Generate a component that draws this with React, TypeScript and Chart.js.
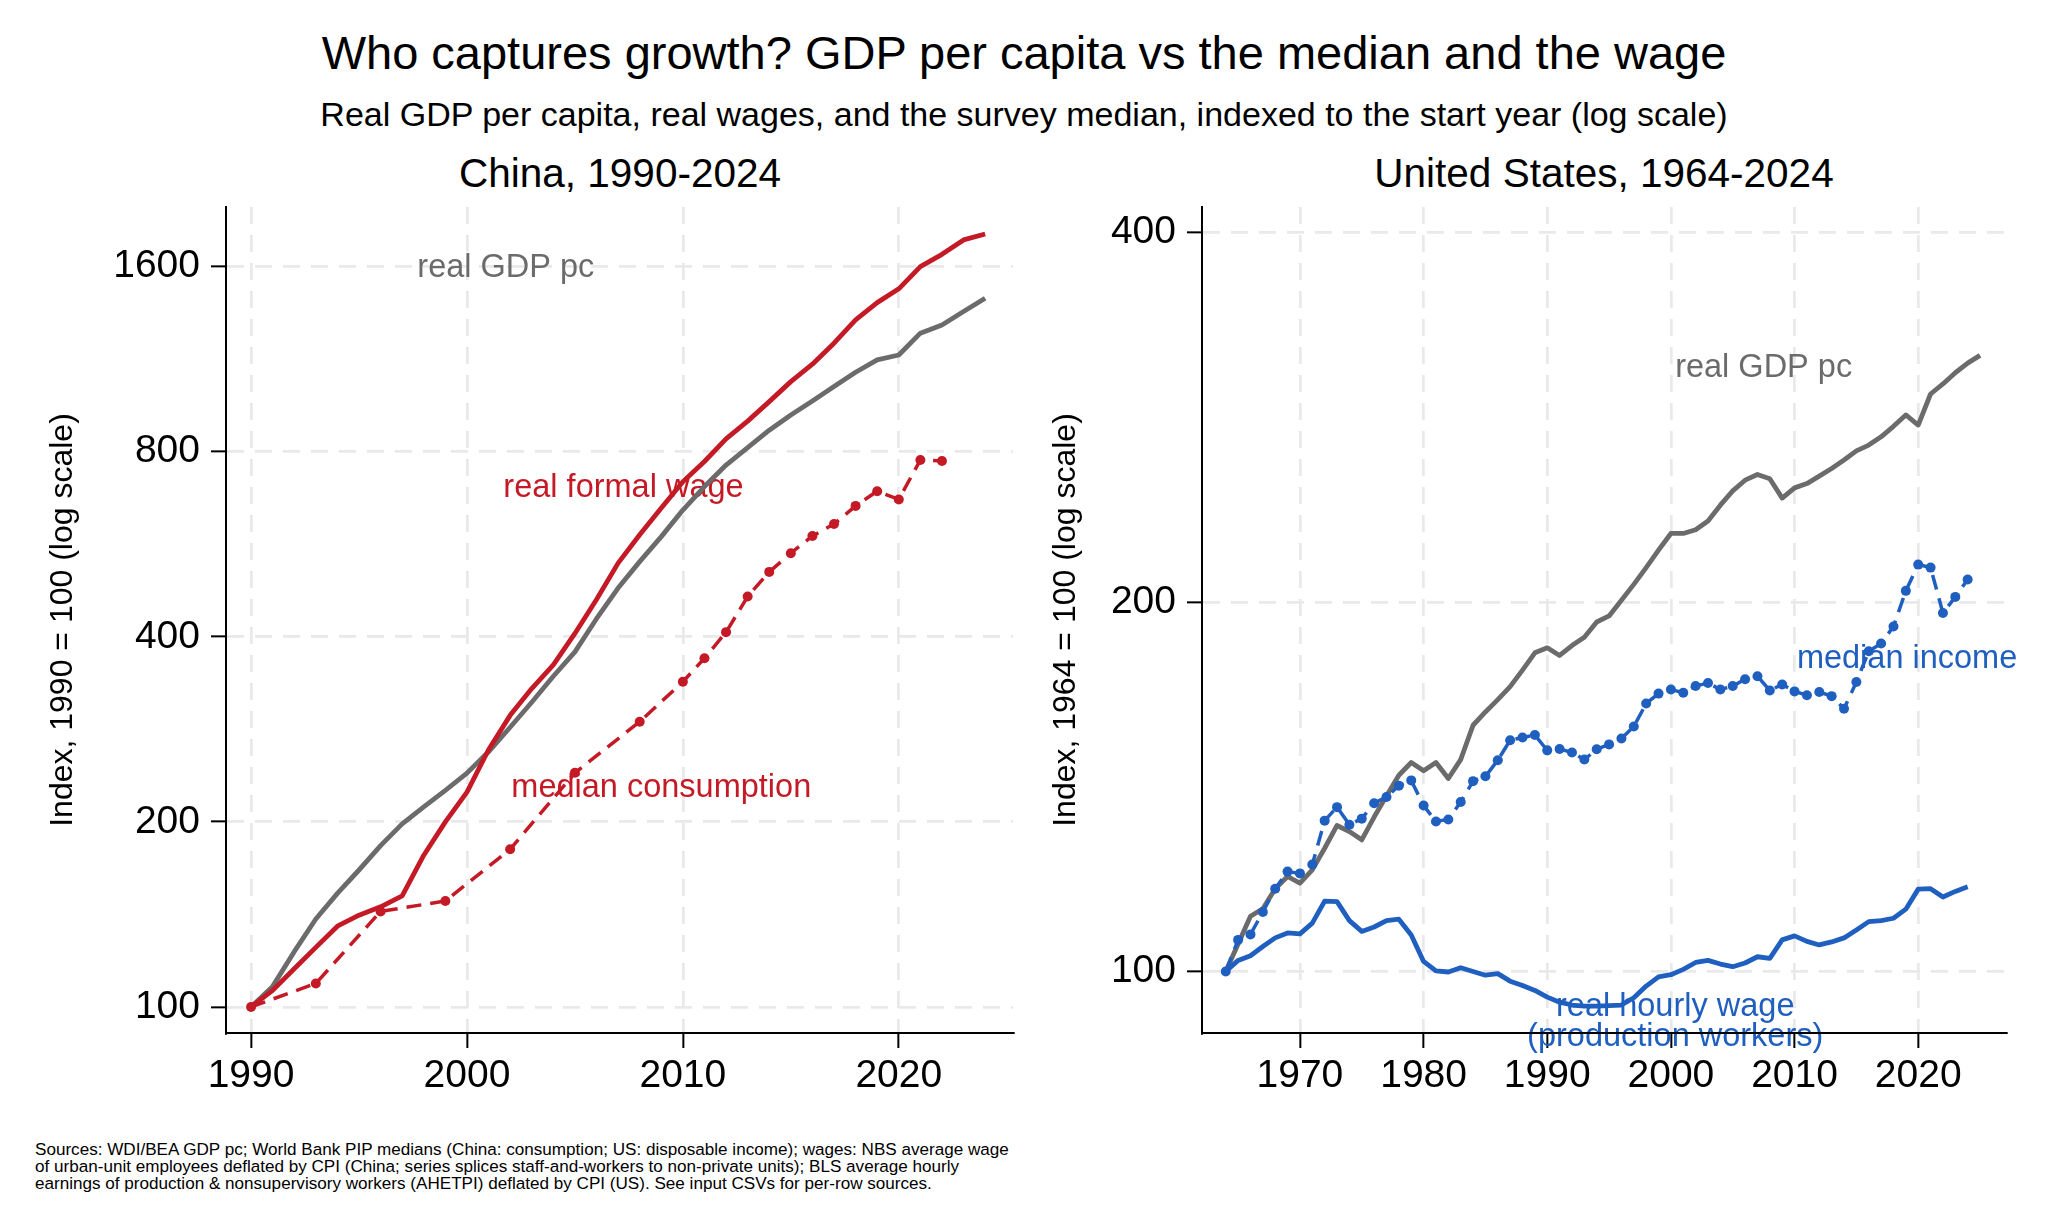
import React, { useEffect, useRef } from "react";
import { Chart, registerables } from "chart.js";

Chart.register(...registerables);

const FONT = "'Liberation Sans', Arial, Helvetica, sans-serif";
const GRAY = "#6b6b6b";
const RED = "#c41a26";
const BLUE = "#1f5fbf";
const GRID = "#e9e9e9";

// ---------------- China, 1990-2024 ----------------
const cnYears = [
  1990, 1991, 1992, 1993, 1994, 1995, 1996, 1997, 1998, 1999,
  2000, 2001, 2002, 2003, 2004, 2005, 2006, 2007, 2008, 2009,
  2010, 2011, 2012, 2013, 2014, 2015, 2016, 2017, 2018, 2019,
  2020, 2021, 2022, 2023, 2024,
];
const cnGdp = [
  100, 108, 123, 139, 153, 167, 183, 198.5, 211.5, 225,
  240, 260, 285, 313, 345, 378, 428, 480, 530, 582,
  643, 702, 761, 812, 867, 918, 967, 1021, 1077, 1128,
  1149, 1247, 1286, 1352, 1421,
];
const cnWage = [
  100, 106.4, 115.4, 125, 135.3, 141, 145.5, 151.6, 176.5, 200,
  223.6, 262, 298, 329.5, 360, 405, 460, 527, 586, 648,
  715, 771, 839, 897, 965, 1040, 1110, 1201, 1310, 1398,
  1472, 1600, 1675, 1768, 1808,
];
const cnMedianYears = [
  1990, 1993, 1996, 1999, 2002, 2005, 2008, 2010, 2011, 2012,
  2013, 2014, 2015, 2016, 2017, 2018, 2019, 2020, 2021, 2022,
];
const cnMedian = [
  100, 109.2, 143, 148.7, 180.5, 240.3, 291, 338, 369, 407,
  465, 510, 547, 583.5, 610, 653, 690, 669, 775.6, 772.6,
];
const cnYTicks = [100, 200, 400, 800, 1600];
const cnXTicks = [1990, 2000, 2010, 2020];

// ---------------- United States, 1964-2024 ----------------
const usGdpYears = [
  1964, 1965, 1966, 1967, 1968, 1969, 1970, 1971, 1972, 1973,
  1974, 1975, 1976, 1977, 1978, 1979, 1980, 1981, 1982, 1983,
  1984, 1985, 1986, 1987, 1988, 1989, 1990, 1991, 1992, 1993,
  1994, 1995, 1996, 1997, 1998, 1999, 2000, 2001, 2002, 2003,
  2004, 2005, 2006, 2007, 2008, 2009, 2010, 2011, 2012, 2013,
  2014, 2015, 2016, 2017, 2018, 2019, 2020, 2021, 2022, 2023,
  2024, 2025,
];
const usGdp = [
  100, 105.3, 110.9, 112.5, 116.8, 119.5, 118, 121, 126, 131.5,
  130, 128, 133.6, 139, 144.5, 148, 145.7, 148, 143.6, 148.8,
  158.7, 162.7, 166.5, 170.6, 176, 181.8, 183.5, 180.9, 184.3, 187.2,
  192.6, 194.8, 200.6, 206.7, 213.3, 220.4, 227.4, 227.4, 229, 232.8,
  239.8, 246.3, 251.3, 254, 252, 243, 247.7, 249.7, 253.2, 256.9,
  261, 265.5, 268.4, 272.6, 278, 284, 278.7, 295.4, 301, 307.4,
  313, 317.6,
];
const usYears = [
  1964, 1965, 1966, 1967, 1968, 1969, 1970, 1971, 1972, 1973,
  1974, 1975, 1976, 1977, 1978, 1979, 1980, 1981, 1982, 1983,
  1984, 1985, 1986, 1987, 1988, 1989, 1990, 1991, 1992, 1993,
  1994, 1995, 1996, 1997, 1998, 1999, 2000, 2001, 2002, 2003,
  2004, 2005, 2006, 2007, 2008, 2009, 2010, 2011, 2012, 2013,
  2014, 2015, 2016, 2017, 2018, 2019, 2020, 2021, 2022, 2023,
  2024,
];
const usMedian = [
  100, 106.1, 107.2, 111.8, 116.8, 120.6, 120.2, 122.2, 132.7, 136.1,
  131.7, 133.2, 137.1, 138.7, 141.7, 143.1, 136.5, 132.5, 133, 137.4,
  142.9, 144.2, 148.6, 154.3, 155.1, 155.8, 151.4, 151.8, 150.8, 148.8,
  151.7, 153.1, 154.8, 158.3, 165.3, 168.4, 169.7, 168.7, 170.8, 171.8,
  169.7, 170.8, 173, 174, 169.4, 171.3, 169.1, 167.9, 168.9, 167.6,
  163.7, 172.1, 182.3, 185, 191, 204.2, 214.5, 213.3, 195.9, 201.9,
  208.6,
];
const usWage = [
  100, 102.1, 103, 104.8, 106.5, 107.5, 107.3, 109.5, 114.1, 114,
  110, 107.8, 108.7, 110, 110.3, 107.1, 101.9, 100.1, 99.9, 100.7,
  100, 99.3, 99.6, 98.2, 97.4, 96.5, 95.3, 94.4, 93.9, 93.7,
  93.7, 93.8, 93.9, 95.2, 97.3, 99, 99.4, 100.4, 101.7, 102.1,
  101.4, 100.9, 101.6, 102.8, 102.5, 106.1, 106.9, 105.8, 105.1, 105.7,
  106.5, 108.1, 109.8, 110, 110.5, 112.4, 116.7, 116.8, 115, 116.2,
  117.2,
];
const usYTicks = [100, 200, 400];
const usXTicks = [1970, 1980, 1990, 2000, 2010, 2020];

// annotation labels (placed in data coordinates)
const cnNotes = [
  { text: "real GDP pc", x: 2001.8, y: 1594, color: GRAY },
  { text: "real formal wage", x: 2007.25, y: 698, color: RED },
  { text: "median consumption", x: 2009, y: 227, color: RED },
];
const usNotes = [
  { text: "real GDP pc", x: 2007.5, y: 310, color: GRAY },
  { text: "median income", x: 2019.1, y: 179.8, color: BLUE },
  { text: "real hourly wage", x: 2000.35, y: 93.6, color: BLUE },
  { text: "(production workers)", x: 2000.35, y: 88.4, color: BLUE },
];

const notesPlugin = {
  id: "notes",
  beforeDatasetsDraw(chart: any, _args: any, opts: any) {
    const { ctx, scales } = chart;
    const items = (opts && opts.items) || [];
    ctx.save();
    ctx.font = `32.5px ${FONT}`;
    ctx.textAlign = "center";
    ctx.textBaseline = "middle";
    for (const n of items) {
      ctx.fillStyle = n.color;
      ctx.fillText(n.text, scales.x.getPixelForValue(n.x), scales.y.getPixelForValue(n.y));
    }
    ctx.restore();
  },
};

const pts = (xs: number[], ys: number[]) => xs.map((x, i) => ({ x, y: ys[i] }));

function solid(data: any, color: string) {
  return {
    data,
    borderColor: color,
    backgroundColor: color,
    borderWidth: 4.8,
    pointRadius: 0,
    tension: 0,
    borderJoinStyle: "round",
    fill: false,
  };
}
function dashed(data: any, color: string) {
  return {
    data,
    borderColor: color,
    backgroundColor: color,
    borderWidth: 3.5,
    borderDash: [15, 9],
    pointRadius: 5,
    pointBorderWidth: 0,
    pointBackgroundColor: color,
    tension: 0,
    fill: false,
  };
}

type PanelSpec = {
  datasets: any[];
  xMin: number;
  xMax: number;
  yMin: number;
  yMax: number;
  xTicks: number[];
  yTicks: number[];
  yTitle: string;
  yAxisWidth: number;
  titlePad: number;
  padRight: number;
  notes: any[];
};

function buildConfig(p: PanelSpec): any {
  const tickFont = { family: FONT, size: 39 };
  return {
    type: "line",
    data: { datasets: p.datasets },
    plugins: [notesPlugin],
    options: {
      responsive: false,
      animation: false,
      layout: { padding: { top: 40, right: p.padRight, left: 0, bottom: 0 } },
      plugins: {
        legend: { display: false },
        tooltip: { enabled: false },
        notes: { items: p.notes },
      },
      scales: {
        x: {
          type: "linear",
          min: p.xMin,
          max: p.xMax,
          afterBuildTicks: (s: any) => {
            s.ticks = p.xTicks.map((v) => ({ value: v }));
          },
          afterFit: (s: any) => {
            s.height = 100;
          },
          ticks: {
            font: tickFont,
            color: "#000",
            padding: 5,
            maxRotation: 0,
            autoSkip: false,
            callback: (v: any) => String(v),
          },
          grid: { color: GRID, lineWidth: 2.7, tickLength: 15, tickColor: "#000", tickWidth: 2 },
          border: { display: true, color: "#000", width: 2, dash: [17, 11], z: 1 },
        },
        y: {
          type: "logarithmic",
          min: p.yMin,
          max: p.yMax,
          afterBuildTicks: (s: any) => {
            s.ticks = p.yTicks.map((v) => ({ value: v }));
          },
          afterFit: (s: any) => {
            s.width = p.yAxisWidth;
          },
          ticks: {
            font: tickFont,
            color: "#000",
            padding: 11,
            autoSkip: false,
            callback: (v: any) => String(v),
          },
          grid: { color: GRID, lineWidth: 2.7, tickLength: 15, tickColor: "#000", tickWidth: 2 },
          border: { display: true, color: "#000", width: 2, dash: [17, 11], z: 1 },
          title: {
            display: true,
            text: p.yTitle,
            color: "#000",
            font: { family: FONT, size: 32 },
            padding: { top: p.titlePad, bottom: 0 },
          },
        },
      },
    },
  };
}

function Panel(props: { left: number; top: number; width: number; height: number; spec: PanelSpec }) {
  const ref = useRef<HTMLCanvasElement>(null);
  useEffect(() => {
    const chart = new Chart(ref.current as HTMLCanvasElement, buildConfig(props.spec));
    return () => chart.destroy();
  }, []);
  return (
    <canvas
      ref={ref}
      width={props.width}
      height={props.height}
      style={{ position: "absolute", left: props.left, top: props.top, width: props.width, height: props.height }}
    />
  );
}

const cnSpec: PanelSpec = {
  datasets: [
    dashed(pts(cnMedianYears, cnMedian), RED),
    solid(pts(cnYears, cnWage), RED),
    solid(pts(cnYears, cnGdp), GRAY),
  ],
  xMin: 1988.84,
  xMax: 2025.29,
  yMin: 90.7,
  yMax: 2000,
  xTicks: cnXTicks,
  yTicks: cnYTicks,
  yTitle: "Index, 1990 = 100 (log scale)",
  yAxisWidth: 226,
  titlePad: 43.8,
  padRight: 27,
  notes: cnNotes,
};

const usSpec: PanelSpec = {
  datasets: [
    dashed(pts(usYears, usMedian), BLUE),
    solid(pts(usYears, usWage), BLUE),
    solid(pts(usGdpYears, usGdp), GRAY),
  ],
  xMin: 1962.08,
  xMax: 2027.1,
  yMin: 89.1,
  yMax: 419.5,
  xTicks: usXTicks,
  yTicks: usYTicks,
  yTitle: "Index, 1964 = 100 (log scale)",
  yAxisWidth: 162,
  titlePad: 6.8,
  padRight: 42,
  notes: usNotes,
};

const textBase: React.CSSProperties = {
  position: "absolute",
  fontFamily: FONT,
  color: "#000",
  lineHeight: 1,
  whiteSpace: "nowrap",
  margin: 0,
};

export default function App() {
  return (
    <div style={{ position: "absolute", left: 0, top: 0, width: 2048, height: 1229, background: "#fff", overflow: "hidden" }}>
      <div style={{ ...textBase, left: 0, width: 2048, top: 28.5, fontSize: 47, textAlign: "center" }}>
        Who captures growth? GDP per capita vs the median and the wage
      </div>
      <div style={{ ...textBase, left: 0, width: 2048, top: 96.5, fontSize: 34, textAlign: "center" }}>
        Real GDP per capita, real wages, and the survey median, indexed to the start year (log scale)
      </div>
      <div style={{ ...textBase, left: 620 - 500, width: 1000, top: 153, fontSize: 40.5, textAlign: "center" }}>
        China, 1990-2024
      </div>
      <div style={{ ...textBase, left: 1604 - 500, width: 1000, top: 153, fontSize: 40.5, textAlign: "center" }}>
        United States, 1964-2024
      </div>
      <Panel left={0} top={167} width={1040} height={966} spec={cnSpec} />
      <Panel left={1040} top={167} width={1008} height={966} spec={usSpec} />
      <div style={{ ...textBase, left: 35, top: 1141, fontSize: 17.1, lineHeight: "17px" }}>
        Sources: WDI/BEA GDP pc; World Bank PIP medians (China: consumption; US: disposable income); wages: NBS average wage
        <br />
        of urban-unit employees deflated by CPI (China; series splices staff-and-workers to non-private units); BLS average hourly
        <br />
        earnings of production &amp; nonsupervisory workers (AHETPI) deflated by CPI (US). See input CSVs for per-row sources.
      </div>
    </div>
  );
}
